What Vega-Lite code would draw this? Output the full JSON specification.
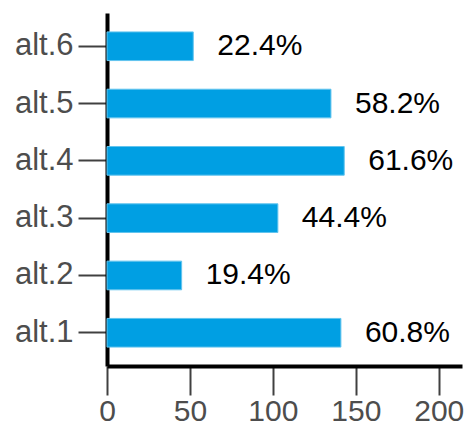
{
  "$schema": "https://vega.github.io/schema/vega-lite/v6.json",
  "width": 355,
  "height": 353,
  "autosize": "none",
  "padding": {"left": 107, "top": 13, "right": 7, "bottom": 61},
  "config": {"view": {"stroke": null}, "font": "Liberation Sans"},
  "data": {
    "values": [
      {"alt": "alt.6", "n": 52, "pct": "22.4%"},
      {"alt": "alt.5", "n": 135, "pct": "58.2%"},
      {"alt": "alt.4", "n": 143, "pct": "61.6%"},
      {"alt": "alt.3", "n": 103, "pct": "44.4%"},
      {"alt": "alt.2", "n": 45, "pct": "19.4%"},
      {"alt": "alt.1", "n": 141, "pct": "60.8%"}
    ]
  },
  "encoding": {
    "y": {
      "field": "alt",
      "type": "nominal",
      "sort": ["alt.6", "alt.5", "alt.4", "alt.3", "alt.2", "alt.1"],
      "scale": {"paddingInner": 0.5, "paddingOuter": 0.33},
      "axis": {
        "title": null,
        "domainColor": "black",
        "domainWidth": 4,
        "tickColor": "#404040",
        "tickWidth": 2,
        "tickSize": 29,
        "labelFontSize": 31,
        "labelColor": "#4d4d4d",
        "labelPadding": 5
      }
    }
  },
  "layer": [
    {
      "mark": {"type": "bar", "color": "#009FE3", "stroke": "#62c4ee", "strokeWidth": 1},
      "encoding": {
        "x": {
          "field": "n",
          "type": "quantitative",
          "scale": {"domain": [0, 214], "nice": false},
          "axis": {
            "title": null,
            "values": [0, 50, 100, 150, 200],
            "grid": false,
            "domainColor": "black",
            "domainWidth": 4,
            "tickColor": "#404040",
            "tickWidth": 2,
            "tickSize": 29,
            "labelFontSize": 30,
            "labelColor": "#4d4d4d",
            "labelPadding": 1,
            "labelFlush": false
          }
        }
      }
    },
    {
      "mark": {"type": "text", "align": "left", "baseline": "middle", "dx": 24, "fontSize": 30, "color": "black"},
      "encoding": {
        "x": {"field": "n", "type": "quantitative"},
        "text": {"field": "pct"}
      }
    }
  ]
}
